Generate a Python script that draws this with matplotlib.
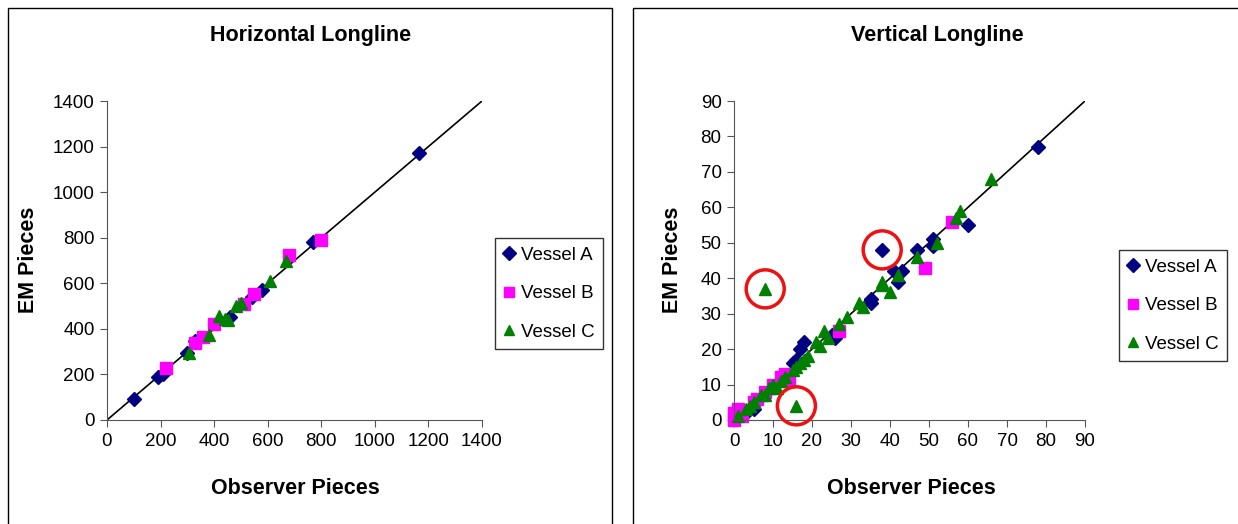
import matplotlib.pyplot as plt
from matplotlib.patches import Rectangle

plt.rcParams['font.family'] = ['Liberation Sans', 'DejaVu Sans']

# Horizontal Longline (observer, EM)
h_a_obs = [100, 190, 210, 300, 330, 460, 540, 580, 770, 1165]
h_a_em = [90, 190, 200, 295, 345, 450, 540, 570, 780, 1170]
h_b_obs = [220, 330, 360, 400, 510, 550, 680, 800]
h_b_em = [230, 340, 365, 420, 510, 555, 725, 790]
h_c_obs = [305, 380, 420, 440, 450, 480, 500, 610, 670]
h_c_em = [295, 375, 455, 445, 440, 500, 515, 610, 700]

# Vertical Longline (observer, EM)
v_a_obs = [78, 60, 51, 51, 47, 43, 42, 41, 38, 35, 35, 26, 25, 18, 17, 16, 15, 5, 3]
v_a_em = [77, 55, 51, 49, 48, 42, 39, 42, 48, 34, 33, 23, 24, 22, 20, 17, 16, 3, 2]
v_b_obs = [56, 49, 27, 14, 13, 12, 10, 8, 6, 5, 1, 0, 2, 0]
v_b_em = [56, 43, 25, 11, 13, 12, 10, 8, 6, 5, 3, 0, 1, 2]
v_c_obs = [66, 58, 57, 52, 47, 42, 40, 38, 38, 33, 32, 29, 27, 24, 23, 22, 21, 19, 18, 17,
           16, 15, 13, 12, 11, 10, 9, 8, 7, 5, 4, 3, 1, 8, 16]
v_c_em = [68, 59, 57, 50, 46, 41, 36, 39, 38, 32, 33, 29, 27, 23, 25, 21, 22, 18, 17, 16,
          15, 14, 12, 11, 9, 10, 9, 7, 7, 5, 4, 3, 1, 37, 4]
v_circ_obs = [8, 38, 16]
v_circ_em = [37, 48, 4]

fig = plt.figure(figsize=(12.38, 5.24), dpi=100)
W, H = 1238, 524

# panel frames
fig.patches.append(Rectangle((8 / W, -0.05), 604 / W, 1.05 - 8 / H, transform=fig.transFigure,
                             fill=False, edgecolor='black', linewidth=1))
fig.patches.append(Rectangle((633 / W, -0.05), 0.6, 1.05 - 8 / H, transform=fig.transFigure,
                             fill=False, edgecolor='black', linewidth=1))


def setup(ax, lim, step):
    ax.plot([0, lim], [0, lim], color='black', linewidth=1.2, zorder=1)
    ax.set_xlim(0, lim)
    ax.set_ylim(0, lim)
    ax.set_xticks(range(0, lim + 1, step))
    ax.set_yticks(range(0, lim + 1, step))
    for s in ['top', 'right']:
        ax.spines[s].set_visible(False)
    for s in ['left', 'bottom']:
        ax.spines[s].set_color('#555555')
    ax.tick_params(direction='out', length=5, color='#555555', labelsize=13.5, pad=4)
    for sp in ax.spines.values():
        sp.set_clip_on(False)


def series(ax, ao, ae, bo, be, co, ce):
    ax.plot(ao, ae, 'D', color='#000080', ms=7, mec='#000080', label='Vessel A', clip_on=False)
    ax.plot(bo, be, 's', color='#FF00FF', ms=8, mec='#FF00FF', label='Vessel B', clip_on=False)
    ax.plot(co, ce, '^', color='#008000', ms=8.5, mec='#008000', label='Vessel C', clip_on=False)


ax1 = fig.add_axes([107 / W, 1 - 420 / H, 375 / W, 319 / H])
setup(ax1, 1400, 200)
series(ax1, h_a_obs, h_a_em, h_b_obs, h_b_em, h_c_obs, h_c_em)

ax2 = fig.add_axes([734 / W, 1 - 420 / H, 351 / W, 319 / H])
setup(ax2, 90, 10)
series(ax2, v_a_obs, v_a_em, v_b_obs, v_b_em, v_c_obs, v_c_em)
ax2.scatter(v_circ_obs, v_circ_em, s=750, facecolors='none', edgecolors='#EE1111',
            linewidths=2.5, zorder=5, clip_on=False)

for ax, tx, lx, yl, leg in [(ax1, 311, 295, 28, (495, 238)), (ax2, 937, 911, 672, (1119, 250))]:
    fig.text(tx / W, 1 - 35 / H, ax is ax1 and 'Horizontal Longline' or 'Vertical Longline',
             ha='center', va='center', fontsize=15.5, fontweight='bold')
    fig.text(lx / W, 1 - 489 / H, 'Observer Pieces', ha='center', va='center',
             fontsize=15.5, fontweight='bold')
    fig.text(yl / W, 1 - 260 / H, 'EM Pieces', ha='center', va='center', rotation=90,
             fontsize=15.5, fontweight='bold')
    lg = ax.legend(loc='upper left', bbox_to_anchor=(leg[0] / W, 1 - leg[1] / H),
                   bbox_transform=fig.transFigure, frameon=True, fancybox=False,
                   fontsize=13.5, handlelength=0.6, handletextpad=0.35, borderpad=0.45,
                   labelspacing=1.15, borderaxespad=0)
    lg.get_frame().set_edgecolor('black')
    lg.get_frame().set_linewidth(1)
    for h in lg.legend_handles:
        h.set_markersize(7)

fig.savefig('out.png', dpi=100)
